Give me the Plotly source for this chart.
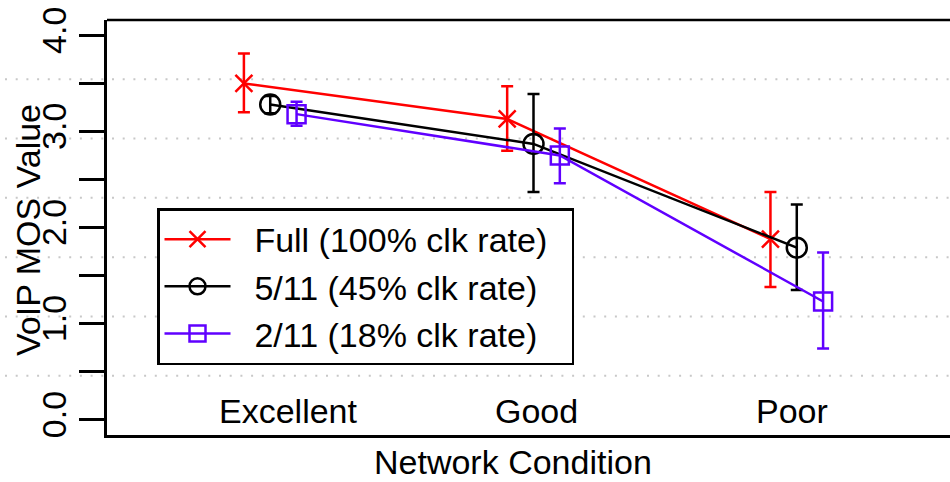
import plotly.graph_objects as go

# Network conditions and the group positions on the x axis
conditions = ["Excellent", "Good", "Poor"]
group_x = [1, 2, 3]
label_x = [1.07, 2.01, 2.98]

# VoIP MOS per clock-rate setting: mean, upper and lower error limits
full_mean = [3.50, 3.13, 1.88]
full_hi = [3.81, 3.47, 2.37]
full_lo = [3.20, 2.80, 1.38]

r511_mean = [3.28, 2.87, 1.79]
r511_hi = [3.37, 3.39, 2.24]
r511_lo = [3.19, 2.37, 1.35]

r211_mean = [3.18, 2.75, 1.23]
r211_hi = [3.31, 3.03, 1.74]
r211_lo = [3.06, 2.46, 0.74]

series_names = ["Full (100% clk rate)", "5/11 (45% clk rate)", "2/11 (18% clk rate)"]
y_ticks = [0.0, 0.5, 1.0, 1.5, 2.0, 2.5, 3.0, 3.5, 4.0]
y_tick_text = ["0.0", "", "1.0", "", "2.0", "", "3.0", "", "4.0"]

X_RANGE = [0.38, 3.582]
Y_RANGE = [-0.16, 4.16]
DODGE = 0.1
FONT = "Liberation Sans, Arial, Helvetica, sans-serif"
RED, BLACK, VIOLET = "#ff0000", "#000000", "#6000ff"
NBSP = "\u00a0"

# plot-area geometry in pixels (used to place paper-referenced items)
PL, PR, PT, PB = 107, 950, 19.6, 435.4
PW, PH = PR - PL, PB - PT


def px_x(p):
    return (p - PL) / PW


def px_y(p):
    return (PB - p) / PH


fig = go.Figure()


def add_series(name, offset, mean, hi, lo, color, symbol, size):
    fig.add_trace(go.Scatter(
        x=[g + offset for g in group_x],
        y=mean,
        name=NBSP * 2 + name + NBSP * 2,
        mode="lines+markers",
        line=dict(color=color, width=2.5),
        marker=dict(symbol=symbol, size=size, color=color,
                    line=dict(color=color, width=2.5)),
        error_y=dict(type="data", symmetric=False,
                     array=[h - m for h, m in zip(hi, mean)],
                     arrayminus=[m - l for m, l in zip(mean, lo)],
                     color=color, thickness=2.5, width=6),
    ))


add_series(series_names[0], -DODGE, full_mean, full_hi, full_lo, RED, "x-thin-open", 17)
add_series(series_names[1], 0.0, r511_mean, r511_hi, r511_lo, BLACK, "circle-open", 20)
add_series(series_names[2], DODGE, r211_mean, r211_hi, r211_lo, VIOLET, "square-open", 18)

# dotted horizontal grid: seven equal divisions of the y range, reaching into the left margin
shapes = []
span = Y_RANGE[1] - Y_RANGE[0]
for k in range(1, 7):
    v = Y_RANGE[0] + k * span / 7
    py = (v - Y_RANGE[0]) / span
    shapes.append(dict(type="line", xref="paper", yref="paper", x0=px_x(5), x1=1.0,
                       y0=py, y1=py, layer="below",
                       line=dict(color="#c8c8c8", width=2, dash="2px,8.7px")))

# top frame line (the frame is open on the right side)
shapes.append(dict(type="line", xref="paper", yref="paper", x0=0, x1=1.05, y0=1, y1=1,
                   line=dict(color="black", width=2.5)))

annotations = [
    dict(x=lx, y=0.09, xref="x", yref="y", text=t, showarrow=False,
         font=dict(family=FONT, size=34, color="black"), xanchor="center", yanchor="middle")
    for lx, t in zip(label_x, conditions)
]
annotations.append(dict(x=px_x(513), y=px_y(462), xref="paper", yref="paper",
                        text="Network Condition", showarrow=False,
                        font=dict(family=FONT, size=34, color="black"),
                        xanchor="center", yanchor="middle"))
annotations.append(dict(x=px_x(28), y=px_y(230), xref="paper", yref="paper",
                        text="VoIP MOS Value", showarrow=False, textangle=-90,
                        font=dict(family=FONT, size=34, color="black"),
                        xanchor="center", yanchor="middle"))

fig.update_layout(
    width=950, height=482,
    margin=dict(l=PL, r=950 - PR, t=PT, b=482 - PB),
    paper_bgcolor="white", plot_bgcolor="white",
    font=dict(family=FONT, size=34, color="black"),
    showlegend=True,
    legend=dict(x=px_x(157), y=px_y(208), xanchor="left", yanchor="top",
                bgcolor="white", bordercolor="black", borderwidth=2.5,
                font=dict(family=FONT, size=34, color="black"),
                itemwidth=66, tracegroupgap=0),
    xaxis=dict(range=X_RANGE, showgrid=False, zeroline=False, showticklabels=False,
               ticks="", showline=True, linecolor="black", linewidth=2.5, mirror=False),
    yaxis=dict(range=Y_RANGE, showgrid=False, zeroline=False,
               tickvals=y_ticks, ticktext=y_tick_text, tickangle=-90,
               ticks="outside", ticklen=25, tickwidth=2.5, tickcolor="black",
               tickfont=dict(family=FONT, size=34, color="black"),
               showline=True, linecolor="black", linewidth=2.5),
    shapes=shapes,
    annotations=annotations,
)

fig.write_html("out.html")
